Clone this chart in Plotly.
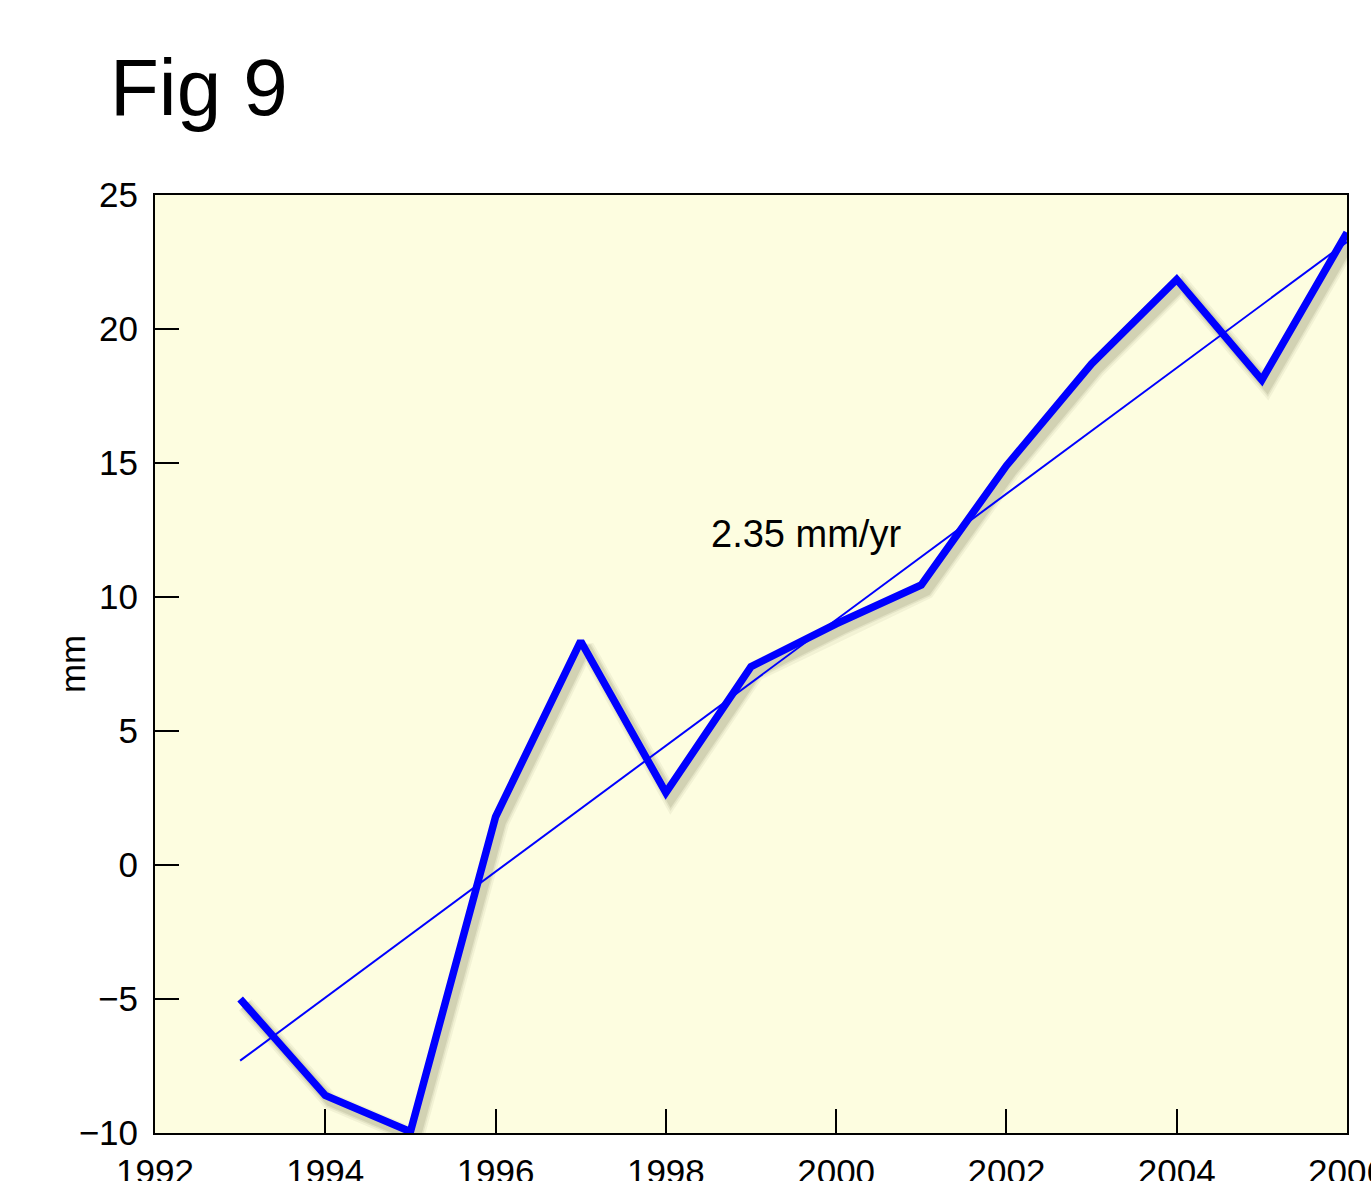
import plotly.graph_objects as go

# Annual mean sea level anomaly (mm)
years = [1993, 1994, 1995, 1996, 1997, 1998, 1999, 2000, 2001, 2002, 2003, 2004, 2005, 2006]
level_mm = [-5.0, -8.6, -9.95, 1.8, 8.35, 2.7, 7.4, 9.0, 10.45, 14.9, 18.7, 21.85, 18.1, 23.6]

# Linear trend: rate and value at the first year
trend_rate = 2.35          # mm/yr
trend_start = -7.3         # mm at first year
trend_years = [years[0], years[-1]]
trend_vals = [trend_start + trend_rate * (y - years[0]) for y in trend_years]

x_ticks = [1992, 1994, 1996, 1998, 2000, 2002, 2004, 2006]
y_ticks = [-10, -5, 0, 5, 10, 15, 20, 25]

FONT = "Liberation Sans, Helvetica, Arial, sans-serif"
BLUE = "#0000FF"

fig = go.Figure()

# soft drop shadow under the thick series line (offset down/right)
shadow_dx, shadow_dy = 0.06, -0.22
for w, a in [(17, 0.05), (13, 0.07), (10, 0.09)]:
    fig.add_trace(go.Scatter(
        x=[y + shadow_dx for y in years],
        y=[v + shadow_dy for v in level_mm],
        mode="lines",
        line=dict(color=f"rgba(40,40,0,{a})", width=w),
        hoverinfo="skip", showlegend=False,
    ))

# trend line
fig.add_trace(go.Scatter(
    x=trend_years, y=trend_vals, mode="lines",
    line=dict(color=BLUE, width=2), showlegend=False,
))

# annual series
fig.add_trace(go.Scatter(
    x=years, y=level_mm, mode="lines",
    line=dict(color=BLUE, width=7.5), showlegend=False,
))

fig.add_annotation(
    x=1999.65, y=12.35, xref="x", yref="y",
    text=f"{trend_rate:.2f} mm/yr", showarrow=False,
    font=dict(family=FONT, size=38, color="black"),
)

fig.add_annotation(
    x=-0.0394, y=1.115, xref="paper", yref="paper",
    xanchor="left", yanchor="middle",
    text="Fig 9", showarrow=False,
    font=dict(family=FONT, size=80, color="black"),
)

fig.add_annotation(
    x=-0.0696, y=0.5, xref="paper", yref="paper",
    xanchor="center", yanchor="middle", textangle=-90,
    text="mm", showarrow=False,
    font=dict(family=FONT, size=35, color="black"),
)

fig.update_layout(
    width=1371, height=1181,
    margin=dict(l=155, r=24, t=195, b=48, pad=0, autoexpand=False),
    paper_bgcolor="white",
    plot_bgcolor="#FDFDE0",
    font=dict(family=FONT, size=35, color="black"),
    showlegend=False,
)

fig.update_xaxes(
    range=[1992, 2006], tickvals=x_ticks, ticktext=[str(t) for t in x_ticks],
    ticks="inside", ticklen=24, tickwidth=1.5, tickcolor="black",
    showline=True, linecolor="black", linewidth=2, mirror=True,
    showgrid=False, zeroline=False, ticklabelstandoff=7,
    automargin=False, ticklabeloverflow="allow",
)
fig.update_yaxes(
    range=[-10, 25], tickvals=y_ticks,
    ticks="inside", ticklen=24, tickwidth=1.5, tickcolor="black",
    showline=True, linecolor="black", linewidth=2, mirror=True,
    showgrid=False, zeroline=False, ticklabelstandoff=8,
    automargin=False, ticklabeloverflow="allow",
)

fig.write_html("out.html")
